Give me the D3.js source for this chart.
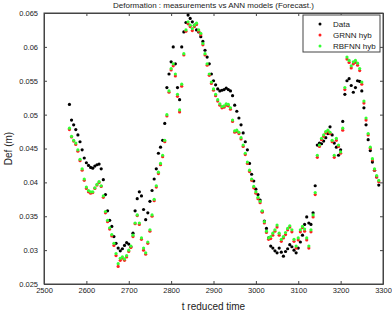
<!DOCTYPE html>
<html><head><meta charset="utf-8">
<script src="https://cdn.jsdelivr.net/npm/d3@7"></script>
<style>
html,body{margin:0;padding:0;background:#fff;}
svg{display:block;font-family:"Liberation Sans",Arial,sans-serif;}
</style></head>
<body><svg id="c" width="392" height="313"></svg>
<script>
// ---- data ----
const tStart = 2560, tStep = 5;
const dataDef = [
0.0515,0.0492,0.0485,0.0478,0.0470,0.0460,0.0448,0.0436,0.0429,0.0425,
0.0422,0.0421,0.0424,0.0426,0.0427,0.0420,0.0404,0.0382,0.0358,0.0344,
0.0335,0.0320,0.0310,0.0303,0.0299,0.0302,0.0307,0.0311,0.0309,0.0305,
0.0325,0.0358,0.0376,0.0386,0.0380,0.0360,0.0345,0.0355,0.0372,0.0388,
0.0405,0.0420,0.0443,0.0452,0.0462,0.0487,0.0540,0.0560,0.0578,0.0600,
0.0575,0.0540,0.0522,0.0600,0.0622,0.0636,0.0647,0.0642,0.0637,0.0632,
0.0625,0.0622,0.0615,0.0608,0.0595,0.0585,0.0575,0.0560,0.0550,0.0544,
0.0538,0.0535,0.0536,0.0537,0.0539,0.0537,0.0535,0.0528,0.0514,0.0505,
0.0495,0.0485,0.0473,0.0460,0.0448,0.0428,0.0412,0.0402,0.0390,0.0382,
0.0374,0.0357,0.0343,0.0332,0.0318,0.0306,0.0303,0.0299,0.0296,0.0303,
0.0297,0.0291,0.0298,0.0302,0.0308,0.0305,0.0300,0.0296,0.0303,0.0312,
0.0322,0.0338,0.0349,0.0340,0.0338,0.0355,0.0395,0.0455,0.0458,0.0457,
0.0461,0.0466,0.0472,0.0482,0.0470,0.0458,0.0452,0.0440,0.0448,0.0490,
0.0530,0.0550,0.0553,0.0543,0.0533,0.0540,0.0550,0.0549,0.0535,0.0510,
0.0485,0.0463,0.0447,0.0430,0.0418,0.0408,0.0396
];
const grnnHyb = [
0.0478,0.0467,0.0461,0.0456,0.0446,0.0432,0.0418,0.0403,0.0391,0.0386,
0.0384,0.0385,0.0391,0.0396,0.0400,0.0394,0.0378,0.0355,0.0342,0.0331,
0.0321,0.0307,0.0292,0.0276,0.0285,0.0288,0.0285,0.0290,0.0298,0.0304,
0.0320,0.0339,0.0351,0.0338,0.0316,0.0300,0.0294,0.0310,0.0328,0.0350,
0.0373,0.0393,0.0413,0.0426,0.0438,0.0460,0.0498,0.0533,0.0566,0.0572,
0.0557,0.0527,0.0504,0.0542,0.0588,0.0623,0.0634,0.0630,0.0624,0.0630,
0.0633,0.0623,0.0618,0.0603,0.0588,0.0573,0.0558,0.0546,0.0536,0.0528,
0.0520,0.0514,0.0510,0.0511,0.0514,0.0513,0.0508,0.0490,0.0474,0.0475,
0.0472,0.0464,0.0453,0.0441,0.0428,0.0416,0.0403,0.0392,0.0384,0.0376,
0.0370,0.0356,0.0340,0.0326,0.0316,0.0317,0.0322,0.0328,0.0334,0.0322,
0.0313,0.0318,0.0323,0.0330,0.0334,0.0327,0.0313,0.0303,0.0315,0.0327,
0.0333,0.0328,0.0315,0.0303,0.0327,0.0349,0.0382,0.0437,0.0453,0.0463,
0.0468,0.0473,0.0475,0.0472,0.0460,0.0437,0.0462,0.0453,0.0443,0.0477,
0.0537,0.0582,0.0577,0.0569,0.0575,0.0577,0.0573,0.0565,0.0545,0.0517,
0.0492,0.0470,0.0450,0.0433,0.0418,0.0408,0.0401
];
const rbfnnHyb = [
0.0480,0.0468,0.0462,0.0458,0.0448,0.0434,0.0420,0.0405,0.0393,0.0388,
0.0386,0.0386,0.0392,0.0397,0.0401,0.0395,0.0380,0.0357,0.0344,0.0333,
0.0323,0.0310,0.0295,0.0280,0.0288,0.0290,0.0287,0.0292,0.0300,0.0306,
0.0322,0.0340,0.0352,0.0340,0.0318,0.0303,0.0296,0.0312,0.0330,0.0352,
0.0375,0.0395,0.0415,0.0428,0.0440,0.0462,0.0500,0.0535,0.0568,0.0575,
0.0560,0.0530,0.0507,0.0545,0.0590,0.0625,0.0637,0.0632,0.0627,0.0632,
0.0635,0.0625,0.0620,0.0605,0.0590,0.0575,0.0560,0.0548,0.0538,0.0530,
0.0522,0.0516,0.0512,0.0513,0.0516,0.0515,0.0510,0.0492,0.0476,0.0477,
0.0474,0.0466,0.0455,0.0443,0.0430,0.0418,0.0405,0.0394,0.0386,0.0378,
0.0372,0.0358,0.0342,0.0328,0.0318,0.0320,0.0325,0.0330,0.0337,0.0325,
0.0316,0.0320,0.0326,0.0332,0.0336,0.0330,0.0316,0.0306,0.0318,0.0330,
0.0335,0.0331,0.0318,0.0306,0.0330,0.0352,0.0385,0.0440,0.0455,0.0465,
0.0470,0.0475,0.0477,0.0474,0.0462,0.0440,0.0465,0.0455,0.0445,0.0480,
0.0540,0.0585,0.0580,0.0572,0.0578,0.0580,0.0576,0.0568,0.0548,0.0520,
0.0495,0.0472,0.0452,0.0435,0.0420,0.0410,0.0403
];
const xTicks = [2500,2600,2700,2800,2900,3000,3100,3200,3300];
const yTicks = [0.025,0.03,0.035,0.04,0.045,0.05,0.055,0.06,0.065];
const seriesNames = ["Data","GRNN hyb","RBFNN hyb"];
const seriesColors = ["#000000","#ff2020","#33ff33"];
const titleText = "Deformation : measurements vs ANN models (Forecast.)";
const xLabel = "t reduced time";
const yLabel = "Def (m)";

// ---- layout ----
const L = 44, R = 383, T = 13, B = 284;
const svg = d3.select("#c");
const x = d3.scaleLinear().domain([2500,3300]).range([L,R]);
const y = d3.scaleLinear().domain([0.025,0.065]).range([B,T]);
const fmtY = d => String(+d.toFixed(3));

// axes (ticks inside, box on)
const gx = svg.append("g").attr("transform",`translate(0,${B})`)
  .call(d3.axisBottom(x).tickValues(xTicks).tickSizeInner(-3).tickSizeOuter(0).tickPadding(4).tickFormat(d3.format("d")));
const gxt = svg.append("g").attr("transform",`translate(0,${T})`)
  .call(d3.axisTop(x).tickValues(xTicks).tickSizeInner(-3).tickSizeOuter(0).tickFormat(""));
const gy = svg.append("g").attr("transform",`translate(${L},0)`)
  .call(d3.axisLeft(y).tickValues(yTicks).tickSizeInner(-3).tickSizeOuter(0).tickPadding(6).tickFormat(fmtY));
const gyr = svg.append("g").attr("transform",`translate(${R},0)`)
  .call(d3.axisRight(y).tickValues(yTicks).tickSizeInner(-3).tickSizeOuter(0).tickFormat(""));
[gx,gxt,gy,gyr].forEach(g=>{
  g.select(".domain").attr("stroke","#444");
  g.selectAll(".tick line").attr("stroke","#444");
  g.selectAll("text").attr("font-size","7.5px").attr("fill","#222")
    .attr("font-family","'Liberation Sans',Arial,sans-serif");
});
svg.append("rect").attr("x",L).attr("y",T).attr("width",R-L).attr("height",B-T)
  .attr("fill","none").attr("stroke","#444").attr("stroke-width",1);

// points
const plotG = svg.append("g");
[dataDef,grnnHyb,rbfnnHyb].forEach((arr,si)=>{
  plotG.selectAll(null).data(arr).enter().append("circle")
    .attr("cx",(d,i)=>x(tStart+i*tStep))
    .attr("cy",d=>y(d))
    .attr("r",1.6)
    .attr("fill",seriesColors[si]);
});

// title and labels
svg.append("text").attr("x",(L+R)/2).attr("y",8).attr("text-anchor","middle")
  .attr("font-size","8px").attr("fill","#222").text(titleText);
svg.append("text").attr("x",(L+R)/2).attr("y",310).attr("text-anchor","middle")
  .attr("font-size","10px").attr("fill","#222").text(xLabel);
svg.append("text").attr("transform",`translate(12,${(T+B)/2}) rotate(-90)`).attr("text-anchor","middle")
  .attr("font-size","10px").attr("fill","#222").text(yLabel);

// legend
const lg = svg.append("g");
lg.append("rect").attr("x",303).attr("y",15).attr("width",77).attr("height",37)
  .attr("fill","#fff").attr("stroke","#444");
seriesNames.forEach((n,i)=>{
  const yy = 24 + i*11;
  lg.append("circle").attr("cx",320).attr("cy",yy).attr("r",1.5).attr("fill",seriesColors[i]);
  lg.append("text").attr("x",333).attr("y",yy+3).attr("font-size","8px").attr("fill","#222").text(n);
});
</script></body></html>
